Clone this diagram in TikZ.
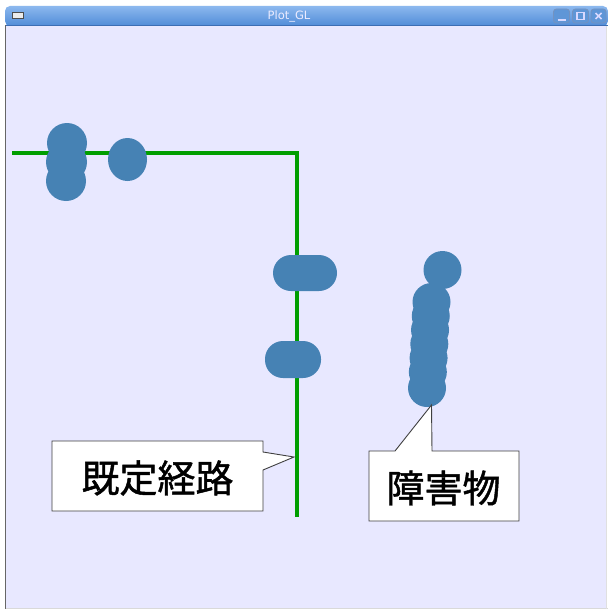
\documentclass[tikz,border=0pt]{standalone}
\usepackage{fontspec}
\newfontfamily\cjk[FakeBold=1.2]{Noto Sans CJK JP}
\newfontfamily\uifont{DejaVu Sans}
\definecolor{bgc}{RGB}{232,232,255}
\definecolor{blob}{RGB}{70,130,180}
\definecolor{pathg}{RGB}{0,158,0}
\definecolor{tbtop}{RGB}{140,184,238}
\definecolor{tbbot}{RGB}{80,140,216}
\definecolor{tbline}{RGB}{60,110,180}
\definecolor{btnfill}{RGB}{95,150,215}
\definecolor{btnline}{RGB}{55,100,165}
\tikzset{
  obst/.style={fill=blob, draw=none},
  route/.style={draw=pathg, line width=4pt, line cap=butt, line join=miter},
  calloutbox/.style={fill=white, draw=black!75, line width=0.9pt, line join=miter},
  calltext/.style={font=\cjk\fontsize{38}{38}\selectfont, inner sep=0pt, anchor=center},
  winbtn/.style={fill=btnfill, draw=btnline!70!white, line width=0.9pt, rounded corners=3pt},
}
\begin{document}
\begin{tikzpicture}[x=1pt,y=-1pt]
\useasboundingbox (0,0) rectangle (608,610);
% outside
\fill[white] (0,0) rectangle (608,610);
% window title bar
\shade[top color=tbtop, bottom color=tbbot, rounded corners=5pt]
  (5,26) -- (5,6) -- (608,6) -- (608,26) -- cycle;
\draw[tbline, line width=0.8pt] (5,25.5) -- (608,25.5);
% content area
\fill[bgc] (5.5,26) rectangle (606,608);
\draw[black!60, line width=1pt] (5.5,25) -- (5.5,609);
\draw[black!15, line width=1pt] (5.5,608.5) -- (608,608.5);
\draw[black!12, line width=1pt] (606.5,26) -- (606.5,609);
% title icon
\node[draw=black!70, fill=white!92!black, line width=0.8pt, minimum width=11pt, minimum height=6pt, inner sep=0pt] (icon) at (17.5,15) {};
% title text
\node[font=\uifont\fontsize{11.5}{12}\selectfont, text=white!92!blue, inner sep=0pt] (title) at (289,16.5) {Plot\_GL};
% buttons
\node[winbtn, minimum width=16pt, minimum height=14pt, inner sep=0pt] (bmin) at (561.5,16) {};
\node[winbtn, minimum width=16pt, minimum height=14pt, inner sep=0pt] (bmax) at (580.5,16) {};
\node[winbtn, minimum width=15pt, minimum height=14pt, inner sep=0pt] (bclose) at (598.5,16) {};
\draw[white!85!blue, line width=1.6pt] ([xshift=-4pt,yshift=-4pt]bmin.center) -- ([xshift=4pt,yshift=-4pt]bmin.center);
\draw[white!85!blue, line width=1.1pt] ([xshift=-3.5pt,yshift=-3.5pt]bmax.center) rectangle ([xshift=3.5pt,yshift=3.5pt]bmax.center);
\draw[white!85!blue, line width=1.6pt] ([xshift=-3pt,yshift=-3pt]bclose.center) -- ([xshift=3pt,yshift=3pt]bclose.center)
  ([xshift=-3pt,yshift=3pt]bclose.center) -- ([xshift=3pt,yshift=-3pt]bclose.center);
% route
\coordinate (r0) at (12,153);
\coordinate (r1) at (297,153);
\coordinate (r2) at (297,517);
\draw[route] (r0) -- (r1) -- (r2);
% obstacles
\fill[obst] (67,143) circle (20);
\fill[obst] (66.5,162) circle (20.5);
\fill[obst] (66,181) circle (20);
\fill[obst] (127.5,159.5) ellipse (19.5 and 21.5);
\fill[obst, rounded corners=18pt] (273,255) rectangle (337,291);
\fill[obst, rounded corners=18pt] (265,341) rectangle (321,378);
\fill[obst] (442.5,270) circle (19);
\foreach \yy in {302,316,330,344,358,372,388}{
  \pgfmathsetmacro{\xx}{431.5-4.5*(\yy-302)/86}
  \fill[obst] (\xx,\yy) circle (19);
}
% callout 1
\coordinate (p1) at (294,457);
\draw[calloutbox] (52,441) -- (263,441) -- (263,452) -- (p1) -- (263,470) -- (263,511) -- (52,511) -- cycle;
\node[calltext] (route label) at (157.5,478) {既定経路};
% callout 2
\coordinate (p2) at (431.5,405);
\draw[calloutbox] (369,451) -- (395,451) -- (p2) -- (432,451) -- (519,451) -- (519,521) -- (369,521) -- cycle;
\node[calltext] (obst label) at (443.5,488) {障害物};
\end{tikzpicture}
\end{document}
